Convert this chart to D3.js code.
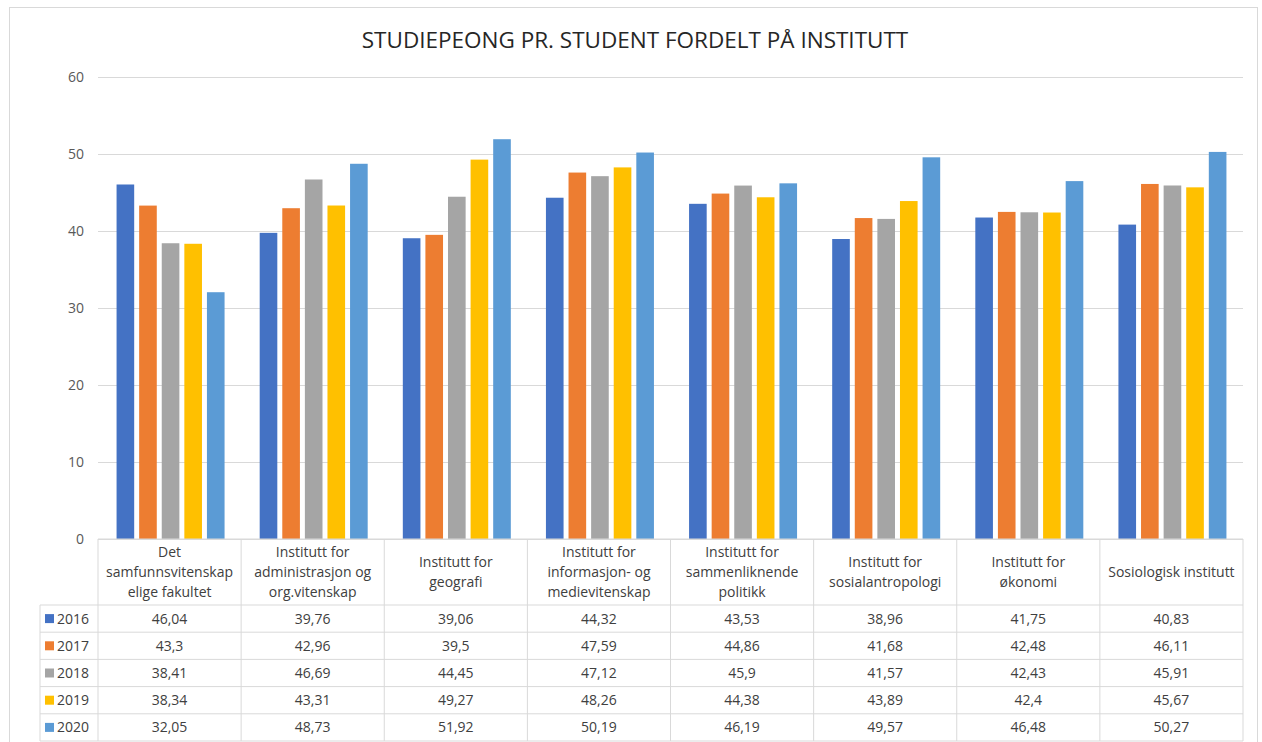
<!DOCTYPE html>
<html>
<head>
<meta charset="utf-8">
<script src="https://cdn.jsdelivr.net/npm/d3@7"></script>
<style>
  body { margin: 0; background: #fff; }
  svg { font-family: "Open Sans", sans-serif; }
</style>
</head>
<body>
<div id="vis"></div>
<script>
// Data
const CATEGORIES = [
  ["Det", "samfunnsvitenskap", "elige fakultet"],
  ["Institutt for", "administrasjon og", "org.vitenskap"],
  ["Institutt for", "geografi"],
  ["Institutt for", "informasjon- og", "medievitenskap"],
  ["Institutt for", "sammenliknende", "politikk"],
  ["Institutt for", "sosialantropologi"],
  ["Institutt for", "økonomi"],
  ["Sosiologisk institutt"]
];
const YEARS = ["2016", "2017", "2018", "2019", "2020"];
const V2016 = [46.04, 39.76, 39.06, 44.32, 43.53, 38.96, 41.75, 40.83];
const V2017 = [43.3, 42.96, 39.5, 47.59, 44.86, 41.68, 42.48, 46.11];
const V2018 = [38.41, 46.69, 44.45, 47.12, 45.9, 41.57, 42.43, 45.91];
const V2019 = [38.34, 43.31, 49.27, 48.26, 44.38, 43.89, 42.4, 45.67];
const V2020 = [32.05, 48.73, 51.92, 50.19, 46.19, 49.57, 46.48, 50.27];
const Y_TICKS = [0, 10, 20, 30, 40, 50, 60];
const COLORS = ["#4472C4", "#ED7D31", "#A5A5A5", "#FFC000", "#5B9BD5"];

const SERIES = [V2016, V2017, V2018, V2019, V2020];

// Frame constants
const FRAME_WIDTH = 1262;
const FRAME_HEIGHT = 742;
const PLOT = {left: 98, right: 1243, top: 77, bottom: 539};
const TABLE_LEFT = 40;
const HEADER_BOTTOM = 605;
const ROW_H = 27.2;

const FRAME = d3.select("#vis")
  .append("svg")
    .attr("width", FRAME_WIDTH)
    .attr("height", FRAME_HEIGHT);

// outer chart border
FRAME.append("rect")
  .attr("x", 9.5).attr("y", 7.5)
  .attr("width", 1248).attr("height", 740)
  .attr("fill", "none")
  .attr("stroke", "#d9d9d9");

// Scales
const X_SCALE = d3.scaleBand()
  .domain(d3.range(CATEGORIES.length))
  .range([PLOT.left, PLOT.right]);

const X_INNER = d3.scaleBand()
  .domain(YEARS)
  .range([0, 108])
  .paddingInner(0.22);

const Y_SCALE = d3.scaleLinear()
  .domain([0, 60])
  .range([PLOT.bottom, PLOT.top]);

// Gridlines + y labels
const yAxis = FRAME.append("g")
  .attr("transform", "translate(" + PLOT.left + ",0)")
  .call(d3.axisLeft(Y_SCALE).tickValues(Y_TICKS).tickSize(-(PLOT.right - PLOT.left)).tickPadding(14));
yAxis.select(".domain").remove();
yAxis.selectAll(".tick line").attr("stroke", "#d9d9d9");
yAxis.selectAll(".tick text")
  .attr("fill", "#595959")
  .attr("font-size", "14px")
  .attr("font-family", "Open Sans, sans-serif");

// Bars
const groupOffset = (X_SCALE.bandwidth() - 108) / 2 + 1;
FRAME.append("g").selectAll("g")
  .data(SERIES)
  .enter()
  .append("g")
    .attr("fill", (d, i) => COLORS[i])
  .selectAll("rect")
  .data((d, i) => d.map((v, c) => ({v: v, c: c, year: YEARS[i]})))
  .enter()
  .append("rect")
    .attr("x", (d) => X_SCALE(d.c) + groupOffset + X_INNER(d.year))
    .attr("y", (d) => Y_SCALE(d.v))
    .attr("width", X_INNER.bandwidth())
    .attr("height", (d) => Y_SCALE(0) - Y_SCALE(d.v));

// Data table
const table = FRAME.append("g")
  .attr("fill", "#404040")
  .attr("font-size", "14px");
const GRID = "#d9d9d9";
const tableBottom = HEADER_BOTTOM + ROW_H * YEARS.length;

// horizontal lines
table.append("line")
  .attr("x1", PLOT.left).attr("x2", PLOT.right)
  .attr("y1", PLOT.bottom).attr("y2", PLOT.bottom)
  .attr("stroke", GRID);
d3.range(YEARS.length + 1).forEach((r) => {
  table.append("line")
    .attr("x1", TABLE_LEFT).attr("x2", PLOT.right)
    .attr("y1", HEADER_BOTTOM + r * ROW_H).attr("y2", HEADER_BOTTOM + r * ROW_H)
    .attr("stroke", GRID);
});
// vertical lines
table.append("line")
  .attr("x1", TABLE_LEFT).attr("x2", TABLE_LEFT)
  .attr("y1", HEADER_BOTTOM).attr("y2", tableBottom)
  .attr("stroke", GRID);
d3.range(CATEGORIES.length + 1).forEach((c) => {
  const x = c < CATEGORIES.length ? X_SCALE(c) : PLOT.right;
  table.append("line")
    .attr("x1", x).attr("x2", x)
    .attr("y1", PLOT.bottom).attr("y2", tableBottom)
    .attr("stroke", GRID);
});

// category header text
CATEGORIES.forEach((lines, c) => {
  const cx = X_SCALE(c) + X_SCALE.bandwidth() / 2;
  const midY = (PLOT.bottom + HEADER_BOTTOM) / 2;
  lines.forEach((txt, k) => {
    table.append("text")
      .attr("x", cx)
      .attr("y", midY + (k - (lines.length - 1) / 2) * 20)
      .attr("dy", "0.35em")
      .attr("text-anchor", "middle")
      .text(txt);
  });
});

// rows with legend keys and values
const fmt = (v) => String(v).replace(".", ",");
YEARS.forEach((yr, r) => {
  const cy = HEADER_BOTTOM + r * ROW_H + ROW_H / 2;
  table.append("rect")
    .attr("x", 45).attr("y", cy - 4.5)
    .attr("width", 9).attr("height", 9)
    .attr("fill", COLORS[r]);
  table.append("text")
    .attr("x", 57).attr("y", cy).attr("dy", "0.35em")
    .text(yr);
  SERIES[r].forEach((v, c) => {
    table.append("text")
      .attr("x", X_SCALE(c) + X_SCALE.bandwidth() / 2)
      .attr("y", cy).attr("dy", "0.35em")
      .attr("text-anchor", "middle")
      .text(fmt(v));
  });
});

// Title
FRAME.append("text")
  .attr("x", 635)
  .attr("y", 48)
  .attr("text-anchor", "middle")
  .attr("font-size", "22.5px")
  .attr("fill", "#262626")
  .text("STUDIEPEONG PR. STUDENT FORDELT PÅ INSTITUTT");
</script>
</body>
</html>
